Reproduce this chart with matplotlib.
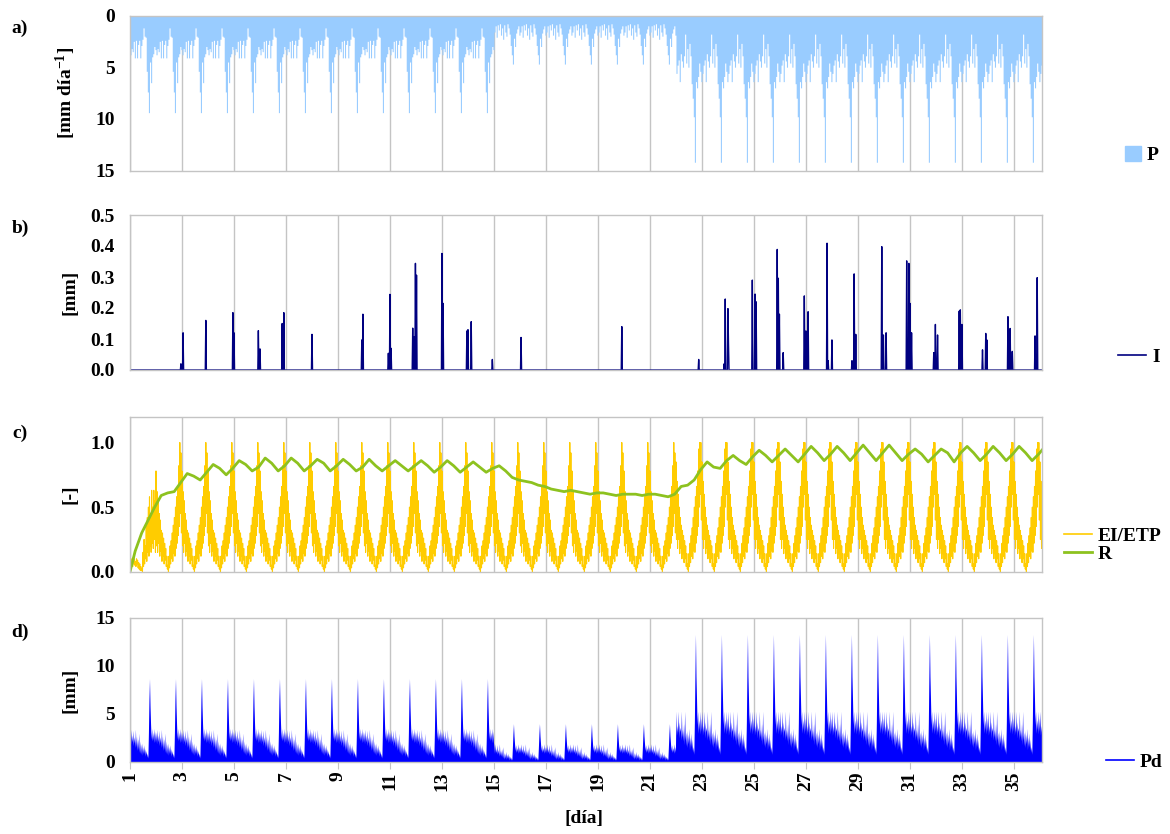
import numpy as np
import matplotlib
matplotlib.use("Agg")
import matplotlib.pyplot as plt
from matplotlib.patches import Patch
from matplotlib.lines import Line2D

plt.rcParams['font.family'] = ['Liberation Serif', 'DejaVu Serif']
plt.rcParams['font.weight'] = 'bold'
plt.rcParams['mathtext.fontset'] = 'custom'
plt.rcParams['mathtext.rm'] = 'Liberation Serif:bold'
plt.rcParams['mathtext.it'] = 'Liberation Serif:bold'
plt.rcParams['mathtext.bf'] = 'Liberation Serif:bold'

# ---- data ----
days = list(range(1, 37))
x_ticks = [1, 3, 5, 7, 9, 11, 13, 15, 17, 19, 21, 23, 25, 27, 29, 31, 33, 35]

# regime of each day (A: days 1-14, B: 15-21, C: 22-36)
p_regime = ['A'] * 14 + ['B'] * 7 + ['C'] * 15
ei_regime = ['S'] + ['A'] * 20 + ['C'] * 15

# hourly precipitation profile of a day [mm dia-1]
p_prof = {
    'A': [3.8, 3.2, 3.5, 2.5, 4.1, 2.4, 4.1, 2.8, 2.4, 4.1, 2.9, 2.3,
          1.2, 2.0, 2.1, 5.4, 7.4, 9.4, 4.5, 6.5, 4.0, 3.7, 3.0, 3.3],
    'B': [1.6, 1.0, 2.1, 0.9, 1.4, 0.8, 1.9, 1.2, 2.3, 0.9, 1.6, 2.0,
          0.8, 1.2, 1.8, 2.9, 3.8, 4.7, 2.2, 3.0, 1.7, 1.3, 1.0, 1.9],
    'C': [5.6, 4.8, 4.3, 6.4, 3.7, 4.4, 5.0, 3.9, 1.8, 4.6, 3.2, 5.0,
          2.7, 3.9, 6.6, 8.0, 9.8, 14.2, 6.4, 7.0, 5.9, 4.6, 5.4, 6.4],
}

# half-hourly EI/ETP profile of a day [-]
ei_prof = {
    'S': [0.08, 0.03, 0.10, 0.05, 0.09, 0.04, 0.11, 0.06, 0.10, 0.05, 0.08, 0.04,
          0.10, 0.06, 0.09, 0.03, 0.07, 0.02, 0.06, 0.01, 0.04, 0.01, 0.02, 0.00,
          0.15, 0.04, 0.25, 0.06, 0.20, 0.10, 0.35, 0.08, 0.42, 0.15, 0.50, 0.12,
          0.58, 0.20, 0.45, 0.15, 0.63, 0.22, 0.50, 0.18, 0.63, 0.25, 0.55, 0.15],
    'A': [0.78, 0.20, 0.62, 0.15, 0.55, 0.22, 0.45, 0.12, 0.40, 0.16, 0.32, 0.08,
          0.30, 0.12, 0.26, 0.06, 0.22, 0.09, 0.18, 0.04, 0.12, 0.02, 0.05, 0.00,
          0.12, 0.03, 0.20, 0.06, 0.24, 0.10, 0.30, 0.08, 0.36, 0.14, 0.42, 0.12,
          0.50, 0.18, 0.58, 0.22, 0.66, 0.28, 0.82, 0.35, 1.00, 0.45, 0.92, 0.30],
    'C': [0.85, 0.25, 0.70, 0.18, 0.60, 0.25, 0.50, 0.14, 0.42, 0.18, 0.36, 0.10,
          0.32, 0.14, 0.28, 0.07, 0.24, 0.10, 0.20, 0.04, 0.14, 0.02, 0.06, 0.00,
          0.14, 0.04, 0.22, 0.07, 0.28, 0.12, 0.34, 0.10, 0.42, 0.16, 0.50, 0.15,
          0.58, 0.22, 0.66, 0.28, 0.78, 0.35, 0.95, 0.50, 1.00, 0.60, 1.00, 0.40],
}

# half-hourly Pd profile of a day [mm]
pd_prof = {
    'A': [3.1, 1.9, 3.4, 2.1, 2.8, 1.7, 3.3, 2.0, 2.6, 1.5, 3.4, 1.6,
          2.7, 1.2, 2.4, 1.3, 3.0, 1.0, 2.2, 0.9, 1.9, 0.8, 2.0, 0.7,
          1.6, 0.9, 1.8, 0.6, 1.4, 0.8, 1.2, 0.5, 0.9, 0.4, 3.0, 6.5,
          8.7, 5.8, 3.9, 2.4, 3.5, 2.2, 3.1, 2.3, 3.5, 2.0, 3.2, 2.1],
    'B': [1.6, 0.9, 1.9, 1.0, 1.4, 0.8, 1.8, 0.9, 1.3, 0.6, 1.9, 0.7,
          1.2, 0.6, 1.4, 0.5, 1.6, 0.4, 1.0, 0.3, 0.9, 0.4, 1.1, 0.3,
          0.8, 0.4, 0.9, 0.2, 0.7, 0.3, 0.6, 0.2, 0.5, 0.2, 1.5, 2.9,
          4.0, 2.7, 1.9, 1.2, 1.8, 1.0, 1.5, 1.1, 1.9, 0.9, 1.6, 1.0],
    'C': [5.3, 2.8, 3.8, 3.1, 5.3, 2.5, 4.2, 3.2, 3.6, 2.3, 5.3, 2.6,
          3.4, 2.2, 4.0, 1.8, 5.3, 2.3, 3.1, 1.7, 3.3, 1.5, 2.9, 1.9,
          3.5, 1.3, 2.6, 1.6, 3.0, 1.2, 2.4, 1.0, 1.6, 0.8, 4.1, 9.0,
          13.3, 8.9, 6.5, 3.9, 5.3, 3.0, 4.4, 3.4, 5.3, 2.9, 4.6, 3.2],
}

# interception spikes: time [dia] and value [mm]
i_time = [2.95, 3.05, 3.92, 4.95, 5.00, 5.94, 6.00, 6.86, 6.91, 7.99,
          9.91, 9.95, 10.94, 10.99, 11.04, 11.87, 11.92, 11.97, 12.03, 13.01,
          13.05, 13.95, 14.01, 14.12, 14.93, 16.04, 19.92, 22.88, 23.86, 23.89,
          23.99, 24.03, 24.94, 25.04, 25.09, 25.90, 25.94, 25.98, 26.13, 26.94,
          26.99, 27.08, 27.82, 27.86, 28.01, 28.77, 28.86, 28.91, 29.92, 29.97,
          30.08, 30.87, 30.95, 31.00, 31.06, 31.92, 31.97, 32.06, 32.90, 32.94,
          33.01, 33.79, 33.91, 33.95, 34.77, 34.85, 34.93, 35.82, 35.90]
i_val = [0.02, 0.12, 0.16, 0.185, 0.12, 0.127, 0.068, 0.15, 0.185, 0.115,
         0.097, 0.18, 0.054, 0.244, 0.07, 0.135, 0.107, 0.344, 0.306, 0.376,
         0.215, 0.126, 0.13, 0.156, 0.034, 0.105, 0.14, 0.034, 0.02, 0.229,
         0.198, 0.086, 0.29, 0.245, 0.22, 0.389, 0.296, 0.18, 0.056, 0.239,
         0.126, 0.188, 0.409, 0.03, 0.097, 0.03, 0.31, 0.115, 0.398, 0.113,
         0.12, 0.352, 0.344, 0.215, 0.12, 0.056, 0.147, 0.113, 0.19, 0.194,
         0.147, 0.065, 0.118, 0.097, 0.172, 0.134, 0.06, 0.11, 0.298]

# R at day + 0.2, 0.45, 0.7, 0.95
r_offsets = [0.2, 0.45, 0.7, 0.95]
r_vals = [
    [0.16, 0.30, 0.40, 0.50], [0.59, 0.61, 0.62, 0.69], [0.76, 0.74, 0.71, 0.77],
    [0.83, 0.80, 0.75, 0.80], [0.86, 0.83, 0.78, 0.81], [0.88, 0.84, 0.78, 0.82],
    [0.88, 0.84, 0.78, 0.82], [0.87, 0.84, 0.78, 0.82], [0.87, 0.83, 0.78, 0.81],
    [0.87, 0.82, 0.78, 0.82], [0.86, 0.82, 0.78, 0.82], [0.86, 0.82, 0.77, 0.81],
    [0.86, 0.82, 0.77, 0.81], [0.85, 0.81, 0.77, 0.80], [0.82, 0.78, 0.73, 0.71],
    [0.70, 0.69, 0.67, 0.66], [0.64, 0.63, 0.62, 0.63], [0.62, 0.61, 0.60, 0.61],
    [0.61, 0.60, 0.59, 0.60], [0.60, 0.60, 0.59, 0.60], [0.60, 0.59, 0.58, 0.60],
    [0.66, 0.67, 0.71, 0.79], [0.85, 0.81, 0.80, 0.86], [0.90, 0.86, 0.83, 0.89],
    [0.94, 0.90, 0.85, 0.90], [0.95, 0.90, 0.85, 0.91], [0.97, 0.92, 0.86, 0.91],
    [0.97, 0.92, 0.86, 0.92], [0.98, 0.92, 0.86, 0.92], [0.98, 0.92, 0.86, 0.91],
    [0.95, 0.91, 0.85, 0.90], [0.95, 0.92, 0.85, 0.92], [0.97, 0.92, 0.86, 0.91],
    [0.97, 0.92, 0.86, 0.91], [0.97, 0.92, 0.86, 0.91], [0.97, 0.92, 0.86, 0.91],
]

# ---- build series from the daily profiles ----
def daily(profiles, regimes):
    n = len(next(iter(profiles.values())))
    t = np.concatenate([d + np.arange(n) / n for d in days])
    v = np.concatenate([profiles[r] for r in regimes])
    return t, v

t_p, p = daily(p_prof, p_regime)
t_ei, ei = daily(ei_prof, ei_regime)
t_pd, pd_ = daily(pd_prof, p_regime)

t_i = t_pd
i_series = np.zeros_like(t_i)
np.maximum.at(i_series, np.rint((np.array(i_time) - 1) * 48).astype(int), i_val)

t_r = [1.0] + [d + o for d in days for o in r_offsets]
r = [0.0] + [v for row in r_vals for v in row]

# ---- figure ----
fig = plt.figure(figsize=(11.7, 8.34), dpi=100)
L, W = 130 / 1170, 912 / 1170
ax_a = fig.add_axes([L, 1 - 170.5 / 834, W, 155 / 834])
ax_b = fig.add_axes([L, 1 - 370 / 834, W, 155 / 834])
ax_c = fig.add_axes([L, 1 - 571.7 / 834, W, 155 / 834])
ax_d = fig.add_axes([L, 1 - 762 / 834, W, 144 / 834])

gray = '#C4C4C4'
fs = 14
for ax in (ax_a, ax_b, ax_c, ax_d):
    ax.set_xlim(1, 36.08)
    ax.set_xticks(x_ticks)
    ax.grid(axis='x', color=gray, lw=1)
    ax.set_axisbelow(True)
    for s in ax.spines.values():
        s.set_color(gray)
        s.set_linewidth(1)
    ax.tick_params(axis='y', length=0, pad=11, labelsize=fs)
    ax.tick_params(axis='x', length=0, labelbottom=False)
    ax.yaxis.set_label_coords(-0.057, 0.5)

# a) precipitation
ax_a.fill_between(np.append(t_p, days[-1] + 1), 0, np.append(p, p[-1]),
                  step='post', color='#99CCFF', lw=0)
ax_a.set_ylim(15, 0)
ax_a.set_yticks([0, 5, 10, 15])
ax_a.set_ylabel(r'[mm día$^{-1}$]', fontsize=fs, fontweight='bold')
ax_a.legend(handles=[Patch(color='#99CCFF', label='P')], loc='center left',
            bbox_to_anchor=(1125 / 1170, 1 - 155 / 834), bbox_transform=fig.transFigure,
            frameon=False, fontsize=14, handlelength=0.8, handleheight=0.8,
            handletextpad=0.3, borderpad=0, borderaxespad=0)

# b) interception
ax_b.plot(t_i, i_series, color='#000080', lw=1.0)
ax_b.set_ylim(0, 0.5)
ax_b.set_yticks([0.0, 0.1, 0.2, 0.3, 0.4, 0.5])
ax_b.set_yticklabels(['0.0', '0.1', '0.2', '0.3', '0.4', '0.5'])
ax_b.set_ylabel('[mm]', fontsize=fs, fontweight='bold')
ax_b.legend(handles=[Line2D([], [], color='#000080', lw=1.2, label='I')], loc='center left',
            bbox_to_anchor=(1118 / 1170, 1 - 357 / 834), bbox_transform=fig.transFigure,
            frameon=False, fontsize=14, handlelength=1.45, handletextpad=0.3,
            borderpad=0, borderaxespad=0)

# c) EI/ETP and R
ax_c.plot(t_ei, ei, color='#FFCC00', lw=0.8)
ax_c.plot(t_r, r, color='#8DC21F', lw=2.0)
ax_c.set_ylim(0, 1.2)
ax_c.set_yticks([0.0, 0.5, 1.0])
ax_c.set_yticklabels(['0.0', '0.5', '1.0'])
ax_c.set_ylabel('[-]', fontsize=fs, fontweight='bold')
ax_c.legend(handles=[Line2D([], [], color='#FFCC00', lw=1.2, label='EI/ETP'),
                     Line2D([], [], color='#8DC21F', lw=2.0, label='R')],
            loc='center left', bbox_to_anchor=(1064 / 1170, 1 - 545 / 834),
            bbox_transform=fig.transFigure, frameon=False, fontsize=14,
            handlelength=1.45, handletextpad=0.3, labelspacing=0.0,
            borderpad=0, borderaxespad=0)

# d) deep percolation
ax_d.fill_between(t_pd, 0, pd_, color='#0000FF', lw=0)
ax_d.set_ylim(0, 15)
ax_d.set_yticks([0, 5, 10, 15])
ax_d.set_ylabel('[mm]', fontsize=fs, fontweight='bold')
ax_d.tick_params(axis='x', length=5, color=gray, labelbottom=True, labelsize=fs,
                 labelrotation=90, pad=2)
ax_d.legend(handles=[Line2D([], [], color='#0000FF', lw=1.2, label='Pd')], loc='center left',
            bbox_to_anchor=(1106 / 1170, 1 - 762 / 834), bbox_transform=fig.transFigure,
            frameon=False, fontsize=14, handlelength=1.45, handletextpad=0.3,
            borderpad=0, borderaxespad=0)

fig.text(584 / 1170, 1 - 818 / 834, '[día]', ha='center', va='center',
         fontsize=fs, fontweight='bold')
for letter, y in [('a)', 28), ('b)', 228), ('c)', 433), ('d)', 632)]:
    fig.text(20 / 1170, 1 - y / 834, letter, ha='center', va='center',
             fontsize=fs, fontweight='bold')

fig.savefig('out.png', dpi=100)
